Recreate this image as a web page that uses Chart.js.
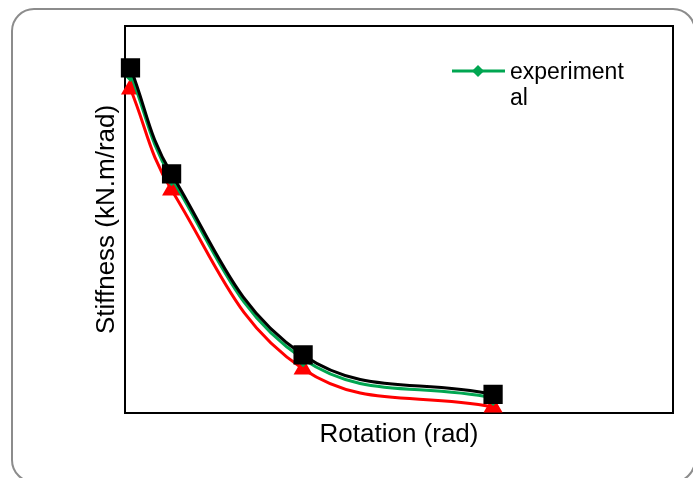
<!DOCTYPE html>
<html>
<head>
<meta charset="utf-8">
<script src="https://cdn.jsdelivr.net/npm/chart.js@4"></script>
<style>
  html, body { margin: 0; padding: 0; background: #fff; }
  #wrap { width: 693px; height: 478px; }
</style>
</head>
<body>
<div id="wrap"><canvas id="chart" width="693" height="478"></canvas></div>
<script>
const rotation = [0.0006, 0.0051, 0.0195, 0.0403];
const stiffBlack = [8915, 6176, 1499, 480];
const stiffGreen = [8760, 6072, 1395, 388];
const stiffRed = [8372, 5762, 1137, 155];
const legendText = ['experiment', 'al'];

const FONT = '"Liberation Sans", Arial, sans-serif';

const pts = vals => rotation.map((x, i) => ({ x, y: vals[i] }));

// outer rounded frame + plot box
const frame = {
  id: 'frame',
  beforeDraw(chart) {
    const c = chart.ctx;
    c.save();
    c.strokeStyle = '#8c8c8c';
    c.lineWidth = 2;
    c.beginPath();
    c.roundRect(12, 9, 683, 473, 22);
    c.stroke();
    c.restore();
  },
  beforeDatasetsDraw(chart) {
    const { left, top, right, bottom } = chart.chartArea;
    const c = chart.ctx;
    c.save();
    c.strokeStyle = '#000';
    c.lineWidth = 2;
    c.strokeRect(left, top, right - left, bottom - top);
    c.restore();
  }
};

// legend with wrapped text, like the original
const legendBox = {
  id: 'legendBox',
  afterDraw(chart) {
    const c = chart.ctx;
    c.save();
    c.strokeStyle = '#00a651';
    c.lineWidth = 3;
    c.beginPath();
    c.moveTo(452, 71);
    c.lineTo(505, 71);
    c.stroke();
    c.fillStyle = '#00a651';
    c.beginPath();
    c.moveTo(472, 71); c.lineTo(478, 65); c.lineTo(484, 71); c.lineTo(478, 77);
    c.closePath();
    c.fill();
    c.fillStyle = '#000';
    c.font = '23px ' + FONT;
    c.textBaseline = 'alphabetic';
    legendText.forEach((t, i) => c.fillText(t, 510, 79 + i * 26));
    c.restore();
  }
};

new Chart(document.getElementById('chart'), {
  type: 'line',
  data: {
    datasets: [
      {
        label: 'black', data: pts(stiffBlack),
        borderColor: '#000', backgroundColor: '#000', borderWidth: 3,
        pointStyle: 'rect', pointRadius: 11.5, tension: 0.4
      },
      {
        label: 'experimental', data: pts(stiffGreen),
        borderColor: '#00a651', backgroundColor: '#00a651', borderWidth: 3,
        pointStyle: 'rectRot', pointRadius: 6, tension: 0.4
      },
      {
        label: 'red', data: pts(stiffRed),
        borderColor: '#ff0000', backgroundColor: '#ff0000', borderWidth: 3,
        pointStyle: 'triangle', pointRadius: 8, tension: 0.4
      }
    ]
  },
  options: {
    responsive: false,
    animation: false,
    clip: false,
    layout: { padding: { left: 80, top: 26, right: 20, bottom: 26 } },
    plugins: { legend: { display: false }, tooltip: { enabled: false } },
    scales: {
      x: {
        type: 'linear', min: 0, max: 0.06,
        ticks: { display: false },
        grid: { display: false },
        border: { display: false },
        title: {
          display: true, text: 'Rotation (rad)', color: '#000',
          font: { family: FONT, size: 26 }, padding: { top: 2, bottom: 2 }
        },
        afterFit: s => { s.height = 39; }
      },
      y: {
        min: 0, max: 10000,
        ticks: { display: false },
        grid: { display: false },
        border: { display: false },
        title: {
          display: true, text: 'Stiffness (kN.m/rad)', color: '#000',
          font: { family: FONT, size: 26 }, padding: { top: 11, bottom: 11 }
        },
        afterFit: s => { s.width = 45; }
      }
    }
  },
  plugins: [frame, legendBox]
});
</script>
</body>
</html>
